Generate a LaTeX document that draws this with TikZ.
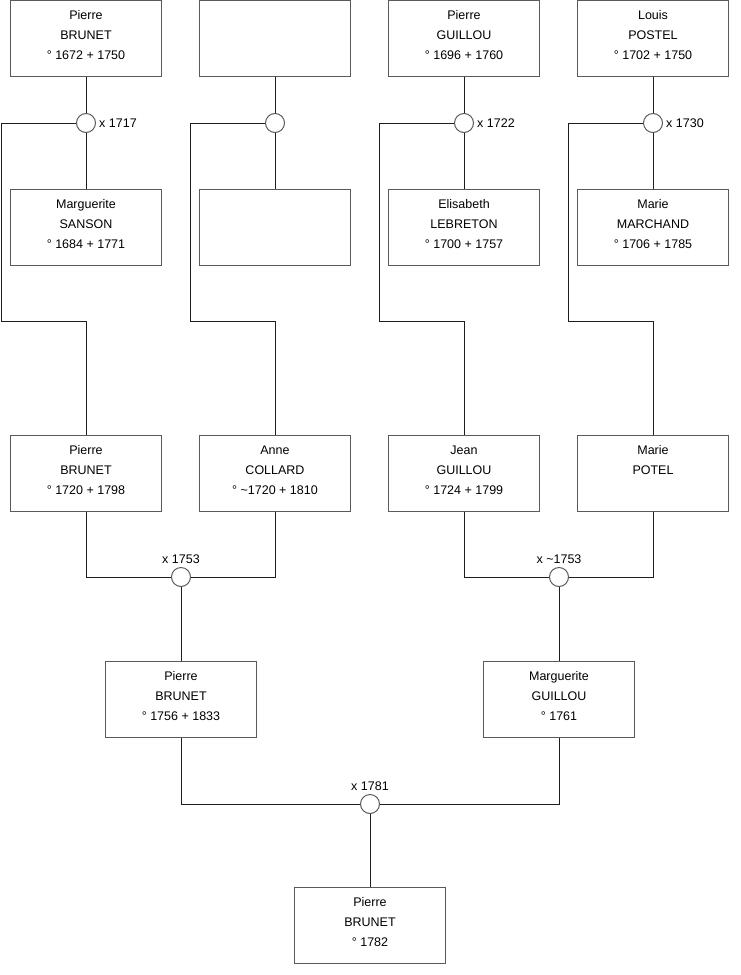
\documentclass[tikz,border=0pt]{standalone}
\usepackage{fontspec}
\setmainfont{Liberation Sans}
\usetikzlibrary{calc}
\definecolor{frGrey}{HTML}{5A5A5A}
\definecolor{frLine}{HTML}{1E1E1E}
\tikzset{
  person/.style = {draw=frGrey, line width=1pt, minimum width=151pt,
                   minimum height=76pt, align=center, inner sep=0pt,
                   text height=46pt, text depth=4pt,
                   font=\fontsize{12.5}{20}\selectfont},
  wed/.style    = {circle, draw=frGrey, fill=white, line width=1pt,
                   minimum size=19pt, inner sep=0pt},
  link/.style   = {frLine, line width=1pt},
  yrlbl/.style  = {font=\fontsize{12.5}{15}\selectfont, inner sep=3pt},
}
\begin{document}
\begin{tikzpicture}[x=1pt, y=-1pt]
  \useasboundingbox (0,0) rectangle (740,975);
  % great-grandfathers
  \node[person] (gf1) at (86,38)  {Pierre\\BRUNET\\° 1672 + 1750};
  \node[person] (gf2) at (275,38) {};
  \node[person] (gf3) at (464,38) {Pierre\\GUILLOU\\° 1696 + 1760};
  \node[person] (gf4) at (653,38) {Louis\\POSTEL\\° 1702 + 1750};
  % great-grandmothers
  \node[person] (gm1) at (86,227)  {Marguerite\\SANSON\\° 1684 + 1771};
  \node[person] (gm2) at (275,227) {};
  \node[person] (gm3) at (464,227) {Elisabeth\\LEBRETON\\° 1700 + 1757};
  \node[person] (gm4) at (653,227) {Marie\\MARCHAND\\° 1706 + 1785};
  % grandparents
  \node[person] (c1) at (86,473)  {Pierre\\BRUNET\\° 1720 + 1798};
  \node[person] (c2) at (275,473) {Anne\\COLLARD\\° \textasciitilde1720 + 1810};
  \node[person] (c3) at (464,473) {Jean\\GUILLOU\\° 1724 + 1799};
  \node[person] (c4) at (653,473) {Marie\\POTEL\\~};
  % first marriages: couple above, child routed down the left side
  \foreach \i/\x/\yr in {1/86/x 1717, 2/275/, 3/464/x 1722, 4/653/x 1730} {
    \node[wed, label={[yrlbl]right:\yr}] (w\i) at (\x,123) {};
    \draw[link] (gf\i) -- (w\i);
    \draw[link] (w\i) -- (gm\i);
    \coordinate (k\i) at (\x-85,321);
    \draw[link] (w\i.west) -| (k\i) -| (c\i.north);
  }
  % parents
  \node[wed, label={[yrlbl]above:x 1753}] (w5) at (181,577) {};
  \node[wed, label={[yrlbl]above:x \textasciitilde1753}] (w6) at (559,577) {};
  \node[person] (p1) at (181,699) {Pierre\\BRUNET\\° 1756 + 1833};
  \node[person] (p2) at (559,699) {Marguerite\\GUILLOU\\° 1761};
  \draw[link] (c1.south) |- (w5.west);
  \draw[link] (c2.south) |- (w5.east);
  \draw[link] (w5) -- (p1);
  \draw[link] (c3.south) |- (w6.west);
  \draw[link] (c4.south) |- (w6.east);
  \draw[link] (w6) -- (p2);
  % root
  \node[wed, label={[yrlbl]above:x 1781}] (w7) at (370,804) {};
  \node[person] (me) at (370,925) {Pierre\\BRUNET\\° 1782};
  \draw[link] (p1.south) |- (w7.west);
  \draw[link] (p2.south) |- (w7.east);
  \draw[link] (w7) -- (me);
\end{tikzpicture}
\end{document}
